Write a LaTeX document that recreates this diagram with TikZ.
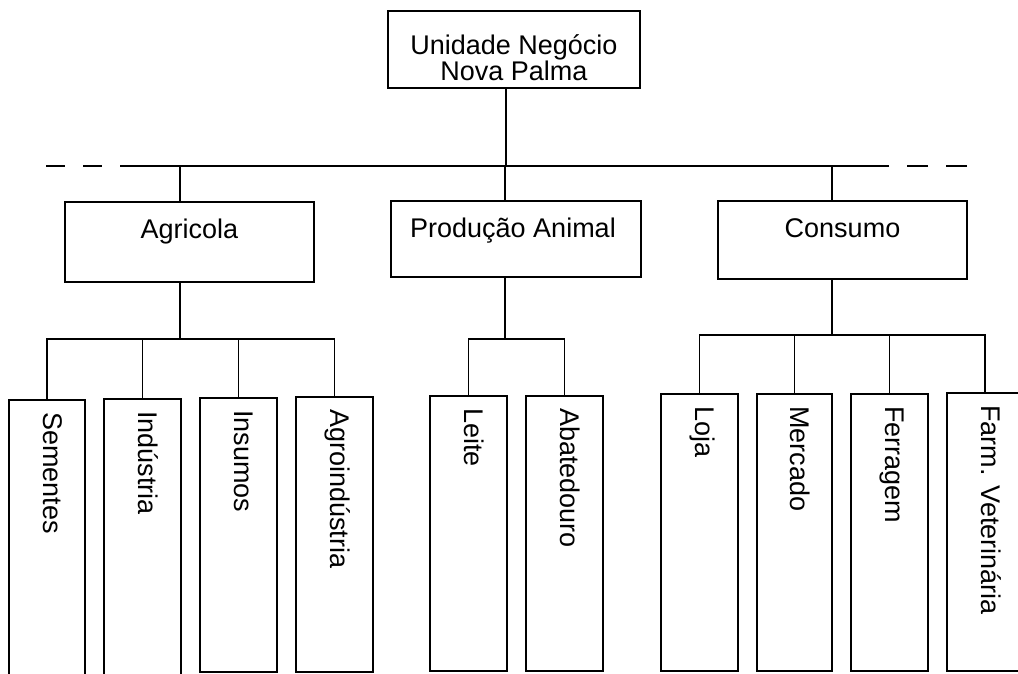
\documentclass[tikz,border=0pt]{standalone}
\usepackage{fontspec}
\setmainfont{Liberation Sans}
\usetikzlibrary{calc}
\begin{document}
\begin{tikzpicture}[x=1pt,y=-1pt,
  box/.style={draw, line width=1.5pt, inner sep=0pt, outer sep=0pt},
  unit/.style={box, minimum width=77pt},
  hlbl/.style={font=\fontsize{27}{25}\selectfont, inner sep=0pt, anchor=base},
  vlbl/.style={font=\fontsize{27}{25}\selectfont, inner sep=0pt, rotate=-90,
               anchor=west, text height=0.72em, text depth=0pt},
  link/.style={line width=1.3pt}]
\useasboundingbox (0,0) rectangle (1018,673);
\clip (0,0) rectangle (1018,673);

% head of the business unit
\node[box, minimum width=252pt, minimum height=77pt] (top) at (514,49.5) {};
\node[hlbl, anchor=north, align=center] (topT) at (514,34) {Unidade Negócio\\Nova Palma};

% divisions
\node[box, minimum width=249pt, minimum height=80pt] (agr) at (189.5,242) {};
\node[box, minimum width=250pt, minimum height=76pt] (prod) at (516,239) {};
\node[box, minimum width=249pt, minimum height=78pt] (cons) at (842.5,240) {};
\node[hlbl] (agrT) at ([yshift=-36pt]agr.north) {Agricola};
\node[hlbl] (prodT) at ([yshift=-36pt,xshift=-3pt]prod.north) {Produção Animal};
\node[hlbl] (consT) at ([yshift=-36pt]cons.north) {Consumo};

% units of Agricola
\node[unit, minimum width=76pt, minimum height=280pt] (sem) at (47,540) {};
\node[unit, minimum height=281pt] (ind) at (142.5,539.5) {};
\node[unit, minimum height=274pt] (ins) at (238.5,535) {};
\node[unit, minimum height=275pt] (agi) at (334.5,534.5) {};
% units of Produção Animal
\node[unit, minimum height=275pt] (lei) at (468.5,533.5) {};
\node[unit, minimum height=275pt] (aba) at (564.5,533.5) {};
% units of Consumo
\node[unit, minimum height=277pt] (loj) at (699.5,532.5) {};
\node[unit, minimum width=75pt, minimum height=277pt] (mer) at (794.5,532.5) {};
\node[unit, minimum height=277pt] (fer) at (889.5,532.5) {};
\node[unit, minimum width=76pt, minimum height=278pt] (far) at (985,532) {};

\foreach \n/\t in {sem/Sementes, ind/Indústria, ins/Insumos, agi/Agroindústria,
                   lei/Leite, aba/Abatedouro, loj/Loja, mer/Mercado,
                   fer/Ferragem, far/Farm. Veterinária}
  \node[vlbl] (\n T) at ($(\n.north)+(0,12)$) {\t};

% main bus with dashed continuations
\coordinate (busL) at (46,166);
\coordinate (busSL) at (122,166);
\coordinate (busSR) at (888,166);
\coordinate (busR) at (967,166);
\draw[link, dash pattern=on 19pt off 18pt] (busL) -- (busSL);
\draw[link] (busSL) -- (busSR);
\draw[link, dash pattern=on 21pt off 18pt] (busR) -- (busSR);

% trunk and division drops
\coordinate (jTop) at (506,166);
\coordinate (jAgr) at (180,166);
\coordinate (jProd) at (505,166);
\coordinate (jCons) at (832,166);
\draw[link] (top.south -| jTop) -- (jTop);
\draw[link] (jAgr) -- (jAgr |- agr.north);
\draw[link] (jProd) -- (jProd |- prod.north);
\draw[link] (jCons) -- (jCons |- cons.north);

% Agricola branch
\coordinate (kAgr) at (180,339);
\draw[link] (kAgr |- agr.south) -- (kAgr);
\draw[link] (sem.north) -- (sem.north |- kAgr) -- (agi.north |- kAgr) -- (agi.north);
\draw[link] (ind.north) -- (ind.north |- kAgr);
\draw[link] (ins.north) -- (ins.north |- kAgr);

% Produção Animal branch
\coordinate (kProd) at (505,339);
\draw[link] (kProd |- prod.south) -- (kProd);
\draw[link] (lei.north) -- (lei.north |- kProd) -- (aba.north |- kProd) -- (aba.north);

% Consumo branch
\coordinate (kCons) at (832,335);
\draw[link] (kCons |- cons.south) -- (kCons);
\draw[link] (loj.north) -- (loj.north |- kCons) -- (far.north |- kCons) -- (far.north);
\draw[link] (mer.north) -- (mer.north |- kCons);
\draw[link] (fer.north) -- (fer.north |- kCons);
\end{tikzpicture}
\end{document}
